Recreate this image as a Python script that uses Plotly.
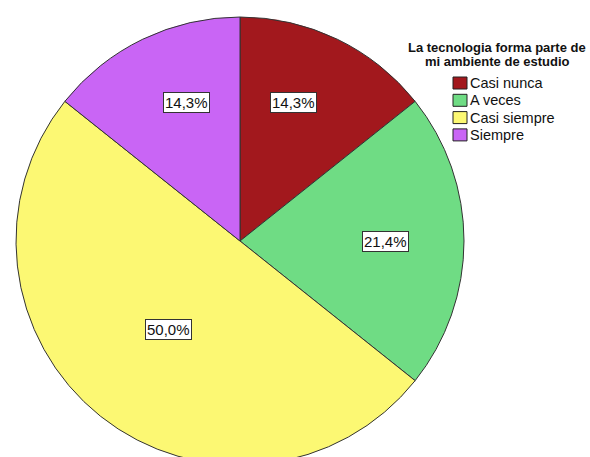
import math
import plotly.graph_objects as go

# Responses to "La tecnologia forma parte de mi ambiente de estudio"
categories = ["Casi nunca", "A veces", "Casi siempre", "Siempre"]
counts = [2, 3, 7, 2]
colors = ["#a2181d", "#6fdc84", "#fcf873", "#c965f5"]
legend_title = ["La tecnologia forma parte de", "mi ambiente de estudio"]

W, H = 590, 490          # canvas is taller than the window; the bottom of the pie is clipped
CX, CY, R = 240, 241, 224
FONT = "Liberation Sans, Arial"

total = sum(counts)
shares = [c / total * 100 for c in counts]
labels = [f"{s:.1f}%".replace(".", ",") for s in shares]


def px2paper(px, py):
    return px / W, 1 - py / H


fig = go.Figure(go.Pie(
    labels=categories,
    values=counts,
    sort=False,
    direction="clockwise",
    rotation=0,
    marker=dict(colors=colors, line=dict(color="#333333", width=1)),
    textinfo="none",
    hoverinfo="label+percent",
    showlegend=False,
    domain=dict(x=[(CX - R) / W, (CX + R) / W],
                y=[1 - (CY + R) / H, 1 - (CY - R) / H]),
))

# percentage boxes placed along each slice's bisector
radial = [0.66, 0.65, 0.51, 0.66]
nudge = [-4.7, 0.0, 0.4, 4.7]
cum = 0.0
for share, text, rf, dn in zip(shares, labels, radial, nudge):
    mid = (cum + share / 2) / 100 * 360 + dn
    cum += share
    a = math.radians(mid)
    x, y = px2paper(CX + rf * R * math.sin(a), CY - rf * R * math.cos(a))
    fig.add_annotation(
        x=x, y=y, xref="paper", yref="paper",
        xanchor="center", yanchor="middle",
        text=text, showarrow=False,
        font=dict(family=FONT, size=15, color="#111111"),
        bgcolor="white", bordercolor="#333333", borderwidth=1, borderpad=1,
    )

# legend title, two centred bold lines
for i, line in enumerate(legend_title):
    x, y = px2paper(497, 48 + 14 * i)
    fig.add_annotation(
        x=x, y=y, xref="paper", yref="paper",
        xanchor="center", yanchor="middle", showarrow=False,
        text=f"<b>{line}</b>",
        font=dict(family=FONT, size=13, color="#111111"),
    )

# legend entries: bordered colour swatch plus category name
for i, (name, col) in enumerate(zip(categories, colors)):
    cy = 83 + 17.3 * i
    x0, y0 = px2paper(453, cy - 6)
    x1, y1 = px2paper(467, cy + 6)
    fig.add_shape(type="rect", xref="paper", yref="paper",
                  x0=x0, x1=x1, y0=y1, y1=y0,
                  fillcolor=col, line=dict(color="#222222", width=1))
    tx, ty = px2paper(468, cy)
    fig.add_annotation(
        x=tx, y=ty, xref="paper", yref="paper",
        xanchor="left", yanchor="middle", showarrow=False,
        text=name,
        font=dict(family=FONT, size=14.5, color="#111111"),
    )

fig.update_layout(
    width=W, height=H,
    margin=dict(l=0, r=0, t=0, b=0),
    paper_bgcolor="white", plot_bgcolor="white",
)

fig.write_html(
    "out.html",
    post_script="document.body.style.margin='0';document.body.style.overflow='hidden';"
                "document.documentElement.style.overflow='hidden';",
)
